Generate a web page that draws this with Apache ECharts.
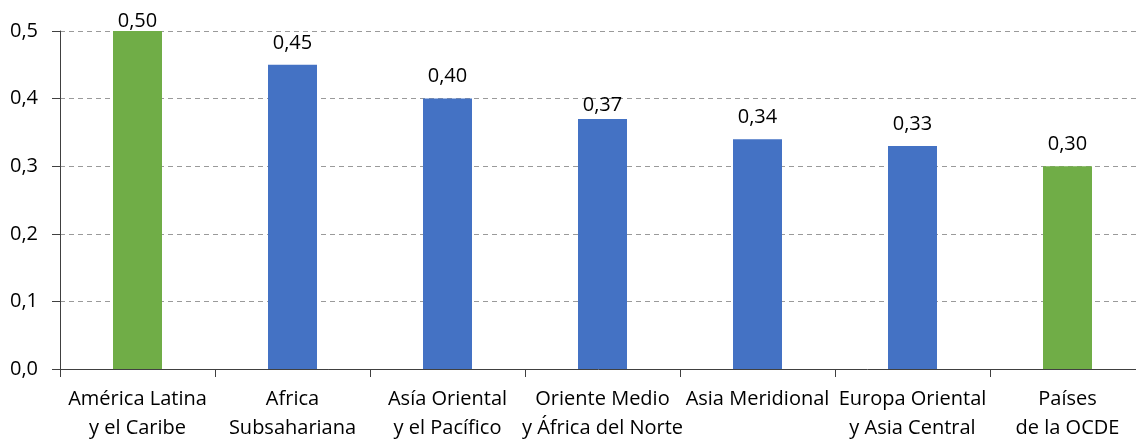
<!DOCTYPE html>
<html>
<head>
<meta charset="utf-8">
<script src="https://cdn.jsdelivr.net/npm/echarts@6/dist/echarts.min.js"></script>
<style>
  html, body { margin: 0; padding: 0; background: #ffffff; }
  #chart { width: 1136px; height: 439px; }
</style>
</head>
<body>
<div id="chart"></div>
<script>
// Regions shown along the x axis
const categories = [
  'América Latina\ny el Caribe',
  'Africa\nSubsahariana',
  'Asía Oriental\ny el Pacífico',
  'Oriente Medio\ny África del Norte',
  'Asia Meridional',
  'Europa Oriental\ny Asia Central',
  'Países\nde la OCDE'
];
// Index value per region
const values = [0.50, 0.45, 0.40, 0.37, 0.34, 0.33, 0.30];
// Which bars are highlighted in green
const highlighted = [true, false, false, false, false, false, true];

const GREEN = '#70AD47';
const BLUE = '#4472C4';
const FONT = '"Open Sans", "Noto Sans", sans-serif';
const FS = 20;

// Gap between a bar top and its value label
function labelGap(i) {
  if (i === 0) return 0;
  if (i === 3) return 4;
  return 12;
}

const fmt = v => v.toFixed(2).replace('.', ',');

const chart = echarts.init(document.getElementById('chart'), null, { renderer: 'canvas' });
chart.setOption({
  animation: false,
  backgroundColor: '#ffffff',
  grid: { left: 60, right: -9, top: 31, bottom: 70, containLabel: false, outerBoundsMode: 'none' },
  xAxis: {
    type: 'category',
    data: categories,
    axisLine: { lineStyle: { color: '#404040', width: 1 } },
    axisTick: { show: true, alignWithLabel: false, length: 8, lineStyle: { color: '#404040' } },
    axisLabel: {
      interval: 0,
      margin: 16,
      color: '#000000',
      fontFamily: FONT,
      fontSize: FS,
      lineHeight: 29
    }
  },
  yAxis: {
    type: 'value',
    min: 0,
    max: 0.5,
    interval: 0.1,
    axisLine: { show: true, lineStyle: { color: '#404040', width: 1 } },
    axisTick: { show: true, length: 8, lineStyle: { color: '#404040' } },
    axisLabel: {
      margin: 22,
      color: '#000000',
      fontFamily: FONT,
      fontSize: FS,
      formatter: v => v.toFixed(1).replace('.', ',')
    },
    splitLine: { show: true, lineStyle: { color: '#9a9a9a', type: [5, 4], width: 1 } }
  },
  series: [{
    type: 'bar',
    barWidth: 49,
    data: values.map((v, i) => ({
      value: v,
      itemStyle: { color: highlighted[i] ? GREEN : BLUE },
      label: { distance: labelGap(i) }
    })),
    label: {
      show: true,
      position: 'top',
      color: '#000000',
      fontFamily: FONT,
      fontSize: FS,
      formatter: p => fmt(p.value)
    }
  }]
});
</script>
</body>
</html>
